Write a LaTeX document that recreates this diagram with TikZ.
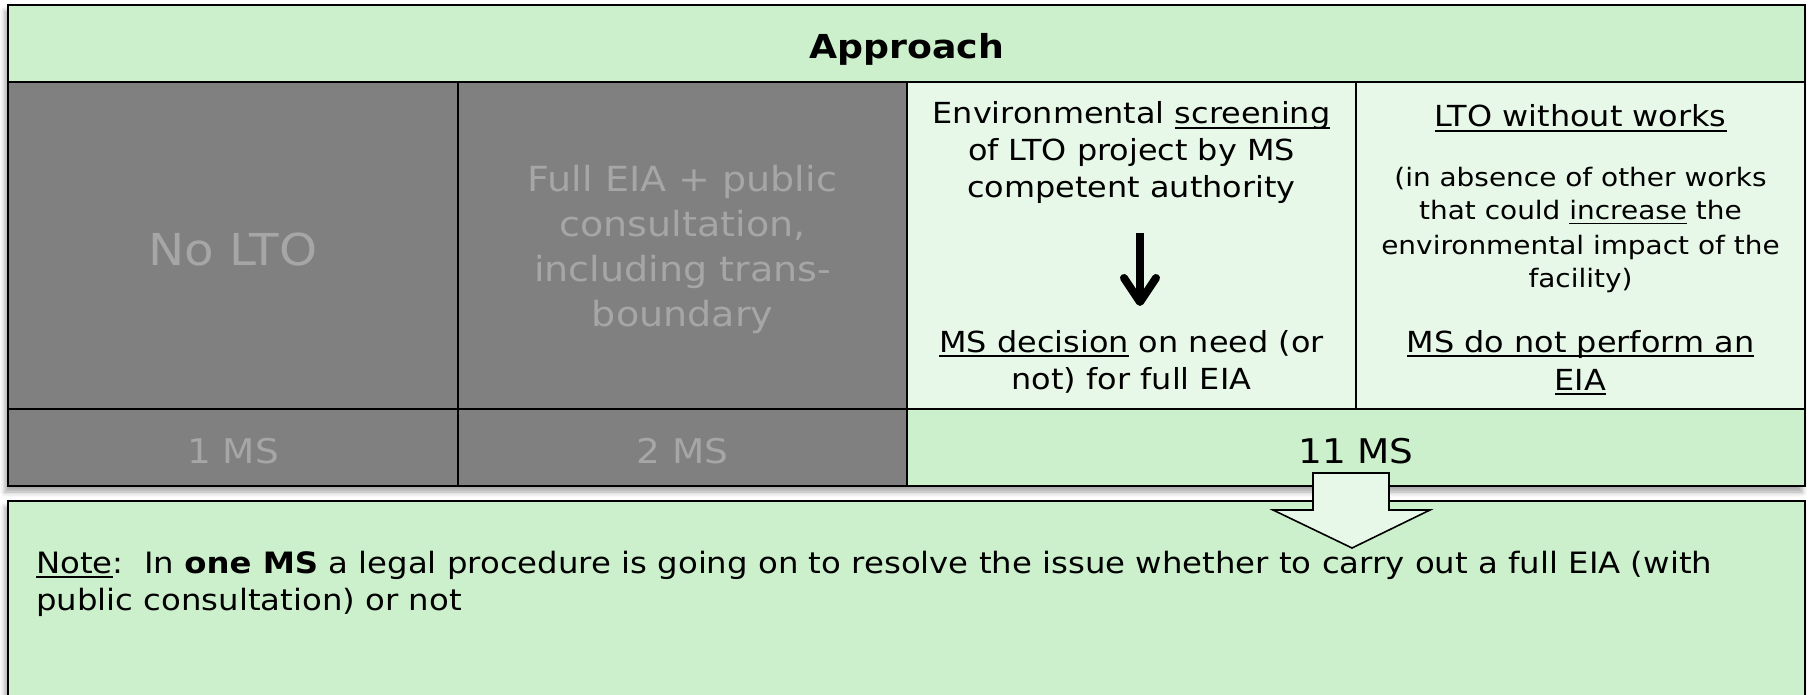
\documentclass[tikz,border=0pt]{standalone}
\usepackage{fontspec}
\setmainfont{DejaVu Sans}[FakeStretch=1.1]
\newlength{\ulwd}
\newcommand{\ul}[1]{\settowidth{\ulwd}{#1}\rlap{\rule[-0.17em]{\ulwd}{0.06em}}#1}
\usetikzlibrary{arrows.meta,shadows.blur,positioning}

\definecolor{hdrgreen}{RGB}{204,240,204}
\definecolor{cellgreen}{RGB}{232,248,232}
\definecolor{cellgray}{RGB}{128,128,128}
\definecolor{txtgray}{RGB}{166,166,166}

\tikzset{
	gridline/.style={draw=black,line width=1pt},
	tblshadow/.style={blur shadow={shadow xshift=-1.5pt,shadow yshift=-3pt,shadow blur radius=2.5pt,shadow opacity=35}},
	graytxt/.style={text=txtgray,align=center,font=\fontsize{17}{22.5}\selectfont},
	celltxt/.style={align=center,font=\fontsize{14.5}{18.5}\selectfont},
	smalltxt/.style={align=center,font=\fontsize{12.7}{17}\selectfont},
	downarrow/.style={line width=4pt,-{Straight Barb[length=12pt,width=16pt,round]}},
	blockarrow/.style={fill=cellgreen,draw=black,line width=0.8pt}
}

\begin{document}
\begin{tikzpicture}[x=0.5pt,y=-0.5pt]
	\useasboundingbox (0,0) rectangle (1810,695);
	% boxes
	\fill[white,tblshadow] (8,5) rectangle (1805,486);
	\fill[white,tblshadow] (8,501) rectangle (1805,720);
	\filldraw[gridline,fill=hdrgreen]
		(8,5) rectangle (1805,82)
		(907,409) rectangle (1805,486)
		(8,501) rectangle (1805,720);
	\filldraw[gridline,fill=cellgray]
		(8,82) rectangle (458,409)
		(458,82) rectangle (907,409)
		(8,409) rectangle (458,486)
		(458,409) rectangle (907,486);
	\filldraw[gridline,fill=cellgreen]
		(907,82) rectangle (1356,409)
		(1356,82) rectangle (1805,409);
	\draw[line width=1.3pt] (8,5) rectangle (1805,486);
	% texts (base = last line)
	\node[anchor=base,font=\bfseries\fontsize{16.5}{20}\selectfont] (head) at (906.5,59) {Approach};
	\node[graytxt,anchor=base,font=\fontsize{22}{26}\selectfont] (nolto) at (233,266) {No LTO};
	\node[graytxt,anchor=base,font=\fontsize{17.3}{22.5}\selectfont] (fulleia) at (682.5,327) {Full EIA + public\\consultation,\\including trans-\\boundary};
	\node[celltxt,anchor=base] (scr) at (1131.5,198) {Environmental \ul{screening}\\of LTO project by MS\\competent authority};
	\node[celltxt,anchor=base] (dec) at (1131.5,389) {\ul{MS decision} on need (or\\not) for full EIA};
	\node[celltxt,anchor=base] (works) at (1580.5,127) {\ul{LTO without works}};
	\node[smalltxt,anchor=base] (absence) at (1580.5,288) {(in absence of other works\\that could \ul{increase} the\\environmental impact of the\\facility)};
	\node[celltxt,anchor=base,font=\fontsize{14.5}{19}\selectfont] (noeia) at (1580.5,390) {\ul{MS do not perform an}\\\ul{EIA}};
	\node[graytxt,anchor=base] (one) at (233,463) {1 MS};
	\node[graytxt,anchor=base] (two) at (682.5,463) {2 MS};
	\node[graytxt,anchor=base,text=black] (eleven) at (1356,463) {11 MS};
	\node[align=left,anchor=base west,font=\fontsize{14.7}{18.5}\selectfont] (note) at (29,610) {\ul{Note}:\ \ In \textbf{one MS} a legal procedure is going on to resolve the issue whether to carry out a full EIA (with\\public consultation) or not};
	% arrows
	\coordinate (arrtop) at (1140,233);
	\coordinate (arrtip) at (1140,306);
	\draw[downarrow] (arrtop) -- (arrtip);
	\draw[blockarrow] (1313,473) -- (1389,473) -- (1389,510) -- (1430,510)
		-- (1352,548) -- (1273,510) -- (1313,510) -- cycle;
\end{tikzpicture}
\end{document}
